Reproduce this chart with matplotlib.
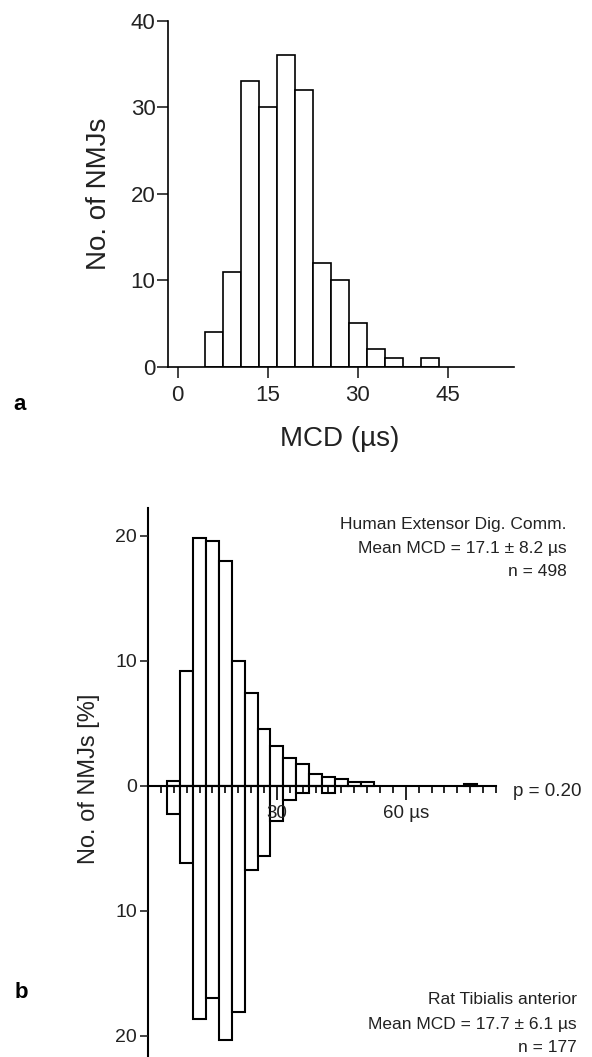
import numpy as np
import matplotlib
matplotlib.use('Agg')
import matplotlib.pyplot as plt
from matplotlib.ticker import FixedLocator, FixedFormatter

plt.rcParams['font.family'] = ['Liberation Sans', 'DejaVu Sans']

# Panel a: rat MCD histogram (bin centres, counts)
bin_centres = [6, 9, 12, 15, 18, 21, 24, 27, 30, 33, 36, 39, 42]
rat_counts = [4, 11, 33, 30, 36, 32, 12, 10, 5, 2, 1, 0, 1]
rat_n = 177

# Panel b: human EDC distribution in percent
human_centres = [6, 9, 12, 15, 18, 21, 24, 27, 30, 33, 36, 39, 42, 45, 48, 51, 75]
human_pct = [0.4, 9.2, 19.8, 19.6, 18.0, 10.0, 7.4, 4.5, 3.2, 2.2, 1.7, 0.9, 0.7, 0.5, 0.3, 0.3, 0.15]

bin_width = 3
lw = 1.2
W, H = 592, 1057

fig = plt.figure(figsize=(W / 100, H / 100), dpi=100)

def px_box(x0, y0, x1, y1):
    # pixel box (top-left origin) -> figure fraction
    return [x0 / W, 1 - y1 / H, (x1 - x0) / W, (y1 - y0) / H]

# ---------- panel a ----------
ax_a = fig.add_axes(px_box(168, 20.7, 514, 366.7))
ax_a.bar(bin_centres, rat_counts, width=bin_width, color='white', edgecolor='black',
         linewidth=lw, zorder=2)
ax_a.set_xlim(-1.6, 56)
ax_a.set_ylim(0, 40)
ax_a.spines['top'].set_visible(False)
ax_a.spines['right'].set_visible(False)
for s in ['left', 'bottom']:
    ax_a.spines[s].set_linewidth(lw)
ax_a.set_xticks([0, 15, 30, 45])
ax_a.set_yticks([0, 10, 20, 30, 40])
ax_a.tick_params(axis='both', labelsize=16, width=lw, length=8, color='#222222',
                 labelcolor='#222222')
ax_a.tick_params(axis='x', pad=5)
ax_a.tick_params(axis='y', pad=1)
ax_a.set_ylabel('No. of NMJs', fontsize=20, color='#222222')
ax_a.yaxis.set_label_coords(-0.162, 0.5)
ax_a.set_xlabel('MCD (\u00b5s)', fontsize=20, color='#222222')
ax_a.xaxis.set_label_coords(0.497, -0.171)
fig.text(13 / W, 1 - 404 / H, 'a', fontsize=16, fontweight='bold', va='center', ha='left')

# ---------- panel b ----------
ax_b = fig.add_axes(px_box(148, 508, 496, 1057))
ax_b.set_axisbelow(False)
rat_pct = [c / rat_n * 100 for c in rat_counts]
ax_b.bar(human_centres, human_pct, width=bin_width, color='white', edgecolor='black',
         linewidth=1.5, zorder=2)
ax_b.bar(bin_centres, [-p for p in rat_pct], width=bin_width, color='white',
         edgecolor='black', linewidth=1.5, zorder=2)
ax_b.set_xlim(0, 81)
ax_b.set_ylim(-21.7, 22.2)
ax_b.spines['top'].set_visible(False)
ax_b.spines['right'].set_visible(False)
ax_b.spines['bottom'].set_position(('data', 0))
ax_b.spines['bottom'].set_zorder(3)
for s in ['left', 'bottom']:
    ax_b.spines[s].set_linewidth(1.5)
ax_b.yaxis.set_major_locator(FixedLocator([-20, -10, 0, 10, 20]))
ax_b.yaxis.set_major_formatter(FixedFormatter(['20', '10', '0', '10', '20']))
ax_b.tick_params(axis='y', labelsize=14, width=lw, length=6, pad=2, color='#222222',
                 labelcolor='#222222')
ax_b.xaxis.set_major_locator(FixedLocator([30, 60]))
ax_b.xaxis.set_major_formatter(FixedFormatter(['30', '60 \u00b5s']))
ax_b.xaxis.set_minor_locator(FixedLocator([v for v in range(3, 82, 3) if v not in (30, 60)]))
ax_b.tick_params(axis='x', which='major', labelsize=13.5, width=lw, length=10, pad=4,
                 color='black', labelcolor='#222222')
ax_b.tick_params(axis='x', which='minor', width=lw, length=5, color='black')
ax_b.set_ylabel('No. of NMJs [%]', fontsize=17, color='#222222')
ax_b.yaxis.set_label_coords(-0.138, 0.506)
fig.text(15 / W, 1 - 993 / H, 'b', fontsize=16, fontweight='bold', va='center', ha='left')

fig.text(513 / W, 1 - 792 / H, 'p = 0.20', fontsize=13.5, va='center', ha='left',
         color='#222222')

human_lines = ['Human Extensor Dig. Comm.', 'Mean MCD = 17.1 \u00b1 8.2 \u00b5s', 'n = 498']
for txt, yy in zip(human_lines, [524, 548, 572]):
    fig.text(567 / W, 1 - yy / H, txt, fontsize=12.5, ha='right', va='center',
             color='#222222')

rat_lines = ['Rat Tibialis anterior', 'Mean MCD = 17.7 \u00b1 6.1 \u00b5s', 'n = 177']
for txt, yy in zip(rat_lines, [999, 1024, 1047]):
    fig.text(577 / W, 1 - yy / H, txt, fontsize=12.5, ha='right', va='center',
             color='#222222')

fig.savefig('out.png', dpi=100)
